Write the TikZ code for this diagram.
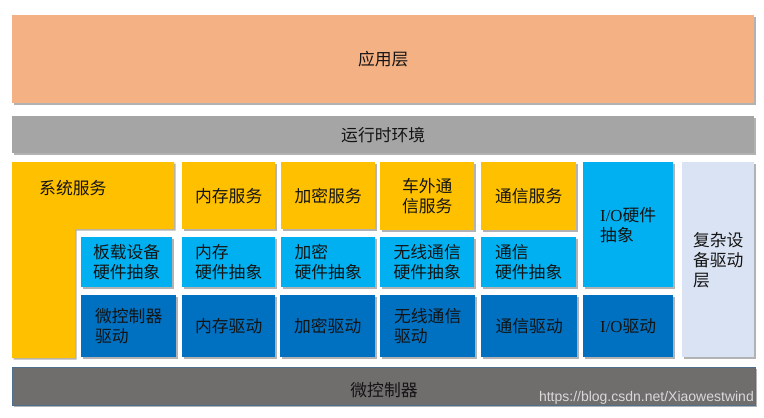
\documentclass[tikz,border=0pt]{standalone}
\usepackage{fontspec}
\setmainfont{Noto Sans CJK SC}
\newfontfamily\latinserif{Liberation Serif}
\newfontfamily\wmfont{Liberation Sans}
\usetikzlibrary{shadows}
\definecolor{appc}{HTML}{F4B183}
\definecolor{rtec}{HTML}{A5A5A5}
\definecolor{yel}{HTML}{FFC000}
\definecolor{lblue}{HTML}{00B0F0}
\definecolor{dblue}{HTML}{0070C0}
\definecolor{cdd}{HTML}{DAE3F3}
\definecolor{mcu}{HTML}{706D6D}
\definecolor{mcuedge}{HTML}{4F6F8F}
\definecolor{wm}{HTML}{D9D9D9}
\definecolor{txt}{HTML}{141414}
\begin{document}
\begin{tikzpicture}[x=1pt,y=-1pt,
  shd/.style={drop shadow={shadow xshift=1.5pt,shadow yshift=-1.5pt,opacity=0.3,fill=black}},
  cell/.style={shd,anchor=north west,inner sep=0pt,align=left,text=txt,
    font=\fontsize{16.8}{20}\selectfont},
  lbl/.style={inner sep=0pt,align=left,text=txt,font=\fontsize{16.8}{20}\selectfont}]
\useasboundingbox (0,0) rectangle (764,418);
\fill[white] (0,0) rectangle (764,418);

% top layers
\node[cell,fill=appc,minimum width=742pt,minimum height=88pt] (app) at (12,15) {应用层};
\node[cell,fill=rtec,minimum width=742pt,minimum height=37pt] (rte) at (12,116) {运行时环境};

% system services L shape
\fill[yel,shd] (12,162) -- (174,162) -- (174,229) -- (75,229) -- (75,358) -- (12,358) -- cycle;
\node[lbl,anchor=west] (sys) at (39,188) {系统服务};

% row 1 services
\node[cell,fill=yel,minimum width=93pt,minimum height=67pt] (memsrv) at (182,162) {内存服务};
\node[cell,fill=yel,minimum width=94pt,minimum height=67pt] (cryptsrv) at (281,162) {加密服务};
\node[cell,fill=yel,minimum width=94pt,minimum height=68pt] (offsrv) at (380,162) {车外通\\信服务};
\node[cell,fill=yel,minimum width=95pt,minimum height=68pt] (comsrv) at (481,162) {通信服务};
\node[cell,fill=lblue,minimum width=90pt,minimum height=125pt] (iohw) at (583,162) {{\latinserif I/O}硬件\\抽象};
\node[cell,fill=cdd,minimum width=72pt,minimum height=195pt] (cdd) at (682,162) {复杂设\\备驱动\\层};

% row 2 hardware abstraction
\node[cell,fill=lblue,minimum width=91pt,minimum height=50pt] (ecuab) at (81,237) {板载设备\\硬件抽象};
\node[cell,fill=lblue,minimum width=93pt,minimum height=50pt] (memab) at (182,237) {内存\\硬件抽象};
\node[cell,fill=lblue,minimum width=94pt,minimum height=50pt] (cryptab) at (281,237) {加密\\硬件抽象};
\node[cell,fill=lblue,minimum width=94pt,minimum height=50pt] (wlab) at (380,237) {无线通信\\硬件抽象};
\node[cell,fill=lblue,minimum width=95pt,minimum height=50pt] (comab) at (481,237) {通信\\硬件抽象};

% row 3 drivers
\node[cell,fill=dblue,minimum width=95pt,minimum height=62pt] (mcudrv) at (81,295) {微控制器\\驱动};
\node[cell,fill=dblue,minimum width=93pt,minimum height=62pt] (memdrv) at (182,295) {内存驱动};
\node[cell,fill=dblue,minimum width=95pt,minimum height=62pt] (cryptdrv) at (280,295) {加密驱动};
\node[cell,fill=dblue,minimum width=95pt,minimum height=62pt] (wldrv) at (380,295) {无线通信\\驱动};
\node[cell,fill=dblue,minimum width=96pt,minimum height=62pt] (comdrv) at (481,295) {通信驱动};
\node[cell,fill=dblue,minimum width=90pt,minimum height=62pt] (iodrv) at (583,295) {{\latinserif I/O}驱动};

% microcontroller
\node[cell,fill=mcu,draw=mcuedge,line width=0.6pt,minimum width=743pt,minimum height=38pt] (mcu) at (12,367) {};
\node[lbl] (mcutxt) at (384,390) {微控制器};
\node[inner sep=0pt,anchor=east,text=wm,font=\wmfont\fontsize{14}{16}\selectfont] (wmk) at (754,398) {https://blog.csdn.net/Xiaowestwind};
\end{tikzpicture}
\end{document}
